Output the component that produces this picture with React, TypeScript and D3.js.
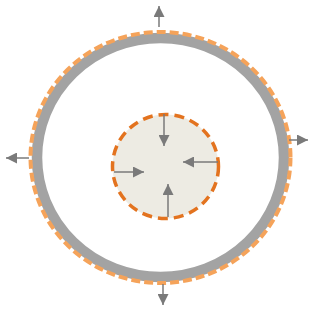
import { useEffect, useRef } from 'react';
import * as d3 from 'd3';

// diagram units: pixels of a 309 x 309 canvas
const rings = [
    { name: 'wall', cx: 160.5, cy: 157.5, rx: 123.5, ry: 119.5, fill: 'none', stroke: '#a3a3a3', width: 10.5, dash: '' },
    { name: 'outer-front', cx: 160.5, cy: 157.5, rx: 130, ry: 125.5, fill: 'none', stroke: '#f5a35a', width: 4, dash: '9,4' },
    { name: 'core', cx: 165.5, cy: 166.5, rx: 53, ry: 52, fill: '#edebe3', stroke: '#e3731f', width: 3.5, dash: '10,6' },
];

const outwardArrows = [
    { x1: 159, y1: 27, x2: 159, y2: 6 },
    { x1: 289, y1: 140, x2: 308, y2: 140 },
    { x1: 29, y1: 158, x2: 6, y2: 158 },
    { x1: 163, y1: 284, x2: 163, y2: 305 },
];

const inwardArrows = [
    { x1: 164, y1: 114, x2: 164, y2: 146 },
    { x1: 218, y1: 162, x2: 183, y2: 162 },
    { x1: 114, y1: 172, x2: 144, y2: 172 },
    { x1: 168, y1: 217, x2: 168, y2: 184 },
];

export default function App() {
    const svgRef = useRef<SVGSVGElement>(null);

    useEffect(() => {
        if (!svgRef.current) return;
        const W = 309, H = 309;
        const x = d3.scaleLinear().domain([0, 309]).range([0, W]);
        const y = d3.scaleLinear().domain([0, 309]).range([0, H]);

        const svg = d3.select(svgRef.current);
        svg.selectAll('*').remove();

        svg.append('rect').attr('width', W).attr('height', H).attr('fill', '#ffffff');

        svg.append('defs').append('marker')
            .attr('id', 'head')
            .attr('viewBox', '0 0 10 10')
            .attr('refX', 10).attr('refY', 5)
            .attr('markerWidth', 11).attr('markerHeight', 11)
            .attr('markerUnits', 'userSpaceOnUse')
            .attr('orient', 'auto')
            .append('path')
            .attr('d', 'M0,0 L10,5 L0,10 Z')
            .attr('fill', '#7a7a7a');

        svg.selectAll('.ring')
            .data(rings)
            .join('ellipse')
            .attr('class', 'ring')
            .attr('cx', d => x(d.cx)).attr('cy', d => y(d.cy))
            .attr('rx', d => x(d.rx) - x(0)).attr('ry', d => y(d.ry) - y(0))
            .attr('fill', d => d.fill)
            .attr('stroke', d => d.stroke)
            .attr('stroke-width', d => d.width)
            .attr('stroke-dasharray', d => d.dash || null);

        svg.selectAll('.arrow')
            .data([...outwardArrows, ...inwardArrows])
            .join('line')
            .attr('class', 'arrow')
            .attr('x1', d => x(d.x1)).attr('y1', d => y(d.y1))
            .attr('x2', d => x(d.x2)).attr('y2', d => y(d.y2))
            .attr('stroke', '#7a7a7a').attr('stroke-width', 1.5)
            .attr('marker-end', 'url(#head)');
    }, []);

    return (
        <svg ref={svgRef} width={309} height={309}
            style={{ position: 'fixed', left: 0, top: 0, display: 'block' }} />
    );
}
